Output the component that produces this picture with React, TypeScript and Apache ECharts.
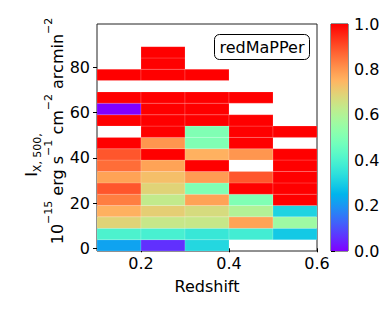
import React, { useEffect, useRef } from "react";
import * as echarts from "echarts";

// Bin edges
const redshiftEdges = [0.1, 0.2, 0.3, 0.4, 0.5, 0.6];
const intensityEdges = [-1.2, 3.8, 8.8, 13.9, 18.9, 23.9, 28.9, 33.9, 39.0, 44.0, 49.0, 54.0, 59.0, 64.1, 69.1, 74.1, 79.1, 84.1, 89.1];

// Fraction per cell, bottom to top, one array per redshift bin (null = empty)
const bin_z010_020 = [0.22, 0.4, 0.69, 0.755, 0.835, 0.89, 0.78, 0.86, 0.89, 1, null, 1, 0, 1, null, 1, null, null];
const bin_z020_030 = [0.06, 0.39, 0.64, 0.7, 0.63, 0.69, 0.73, 0.78, 1, 0.8, 1, 1, 1, 1, null, 1, 1, 1];
const bin_z030_040 = [0.32, 0.36, 0.64, 0.67, 0.78, 0.5, 0.79, 1, 0.755, 0.5, 0.5, 1, 1, 1, null, 1, null, null];
const bin_z040_050 = [null, 0.38, 0.78, 0.6, 0.5, 1, 0.89, null, 0.8, 1, 1, 1, null, 1, null, null, null, null];
const bin_z050_060 = [null, 0.29, 0.56, 0.31, 1, 1, 1, 1, 1, null, 1, null, null, null, null, null, null, null];
const columns = [bin_z010_020, bin_z020_030, bin_z030_040, bin_z040_050, bin_z050_060];

// Tick labels
const xTicks = [0.2, 0.4, 0.6];
const yTicks = [0, 20, 40, 60, 80];
const FONT = "DejaVu Sans";

function rainbow(t: number): string {
  const c = (v: number) => Math.round(Math.max(0, Math.min(1, v)) * 255);
  const r = Math.abs(2 * t - 0.5);
  const g = Math.sin(Math.PI * t);
  const b = Math.cos((Math.PI * t) / 2);
  return `rgb(${c(r)},${c(g)},${c(b)})`;
}

export default function App() {
  const ref = useRef<HTMLDivElement>(null);
  useEffect(() => {
    if (!ref.current) return;
    const chart = echarts.init(ref.current, undefined, { renderer: "svg" });

    const cells: any[] = [];
    columns.forEach((col, ci) => {
      col.forEach((v, ri) => {
        if (v === null) return;
        cells.push([redshiftEdges[ci], redshiftEdges[ci + 1], intensityEdges[ri], intensityEdges[ri + 1], v]);
      });
    });

    const stops: string[] = [];
    for (let i = 0; i <= 32; i++) stops.push(rainbow(i / 32));
    const gradStops = stops.map((c, i) => ({ offset: i / 32, color: c }));

    const labelStyle = { fontFamily: FONT, fontSize: 16, color: "#000" };

    chart.setOption({
      animation: false,
      grid: [
        { left: 97, top: 24, width: 220, height: 227, show: true, borderColor: "#222", borderWidth: 1, backgroundColor: "transparent" },
        { left: 331, top: 24, width: 17, height: 227, show: true, borderColor: "#222", borderWidth: 1, backgroundColor: "transparent" },
      ],
      xAxis: [
        {
          type: "value", gridIndex: 0, min: 0.1, max: 0.6,
          axisLine: { show: false },
          splitLine: { show: false },
          axisTick: { show: true, length: 4, customValues: xTicks, lineStyle: { color: "#000" } },
          axisLabel: { ...labelStyle, margin: 4, customValues: xTicks, formatter: (v: number) => v.toFixed(1) },
        },
        { type: "value", gridIndex: 1, min: 0, max: 1, show: false },
      ],
      yAxis: [
        {
          type: "value", gridIndex: 0, min: -1.2, max: 99.1,
          axisLine: { show: false },
          splitLine: { show: false },
          axisTick: { show: true, length: 4, customValues: yTicks, lineStyle: { color: "#000" } },
          axisLabel: { ...labelStyle, margin: 7, customValues: yTicks },
        },
        {
          type: "value", gridIndex: 1, min: 0, max: 1, interval: 0.2, position: "right",
          axisLine: { show: false },
          splitLine: { show: false },
          axisTick: { show: true, length: 4, lineStyle: { color: "#000" } },
          axisLabel: { ...labelStyle, margin: 6, formatter: (v: number) => v.toFixed(1) },
        },
      ],
      visualMap: {
        type: "continuous", show: false, min: 0, max: 1, dimension: 4, seriesIndex: 0,
        inRange: { color: stops },
      },
      series: [
        {
          type: "custom",
          xAxisIndex: 0, yAxisIndex: 0,
          dimensions: ["x0", "x1", "y0", "y1", "v"],
          encode: { x: [0, 1], y: [2, 3] },
          data: cells,
          clip: true,
          renderItem: (params: any, api: any) => {
            const p0 = api.coord([api.value(0), api.value(3)]);
            const p1 = api.coord([api.value(1), api.value(2)]);
            return {
              type: "rect",
              shape: { x: p0[0], y: p0[1], width: p1[0] - p0[0], height: p1[1] - p0[1] },
              style: { fill: api.visual("color"), stroke: "rgba(255,255,255,0.3)", lineWidth: 0.5 },
            };
          },
        },
        {
          type: "custom",
          xAxisIndex: 1, yAxisIndex: 1,
          data: [[0, 1, 0, 1]],
          encode: { x: [0, 1], y: [2, 3] },
          renderItem: (params: any, api: any) => {
            const p0 = api.coord([api.value(0), api.value(3)]);
            const p1 = api.coord([api.value(1), api.value(2)]);
            return {
              type: "rect",
              shape: { x: p0[0], y: p0[1], width: p1[0] - p0[0], height: p1[1] - p0[1] },
              style: { fill: new echarts.graphic.LinearGradient(0, 1, 0, 0, gradStops) },
            };
          },
        },
      ],
      graphic: [
        {
          type: "rect", shape: { x: 214.5, y: 34.5, width: 95, height: 25, r: 5 },
          style: { fill: "#fff", stroke: "#000", lineWidth: 1 }, z: 10,
        },
        {
          type: "text", x: 262, y: 47, z: 11,
          style: { text: "redMaPPer", fontFamily: FONT, fontSize: 16, fill: "#000", align: "center", verticalAlign: "middle" },
        },
        {
          type: "text", x: 207, y: 286,
          style: { text: "Redshift", fontFamily: FONT, fontSize: 16, fill: "#000", align: "center", verticalAlign: "middle" },
        },
        {
          type: "text", x: 33, y: 155, rotation: Math.PI / 2,
          style: {
            text: "{i|I}{b|X, 500,}",
            align: "center", verticalAlign: "middle",
            rich: {
              i: { fontFamily: FONT, fontSize: 16, fill: "#000", lineHeight: 20, verticalAlign: "top" },
              b: { fontFamily: FONT, fontSize: 11, fill: "#000", lineHeight: 12, verticalAlign: "bottom" },
            },
          },
        },
        {
          type: "text", x: 54, y: 131, rotation: Math.PI / 2,
          style: {
            text: "{n|10}{s|−15}{n| erg s}{s|−1}{n| cm}{s|−2}{n| arcmin}{s|−2}",
            align: "center", verticalAlign: "middle",
            rich: {
              n: { fontFamily: FONT, fontSize: 16, fill: "#000", lineHeight: 22, verticalAlign: "bottom" },
              s: { fontFamily: FONT, fontSize: 11, fill: "#000", lineHeight: 12, verticalAlign: "top" },
            },
          },
        },
      ],
    });
    return () => chart.dispose();
  }, []);
  return <div ref={ref} style={{ width: 390, height: 312, margin: -8 }} />;
}
